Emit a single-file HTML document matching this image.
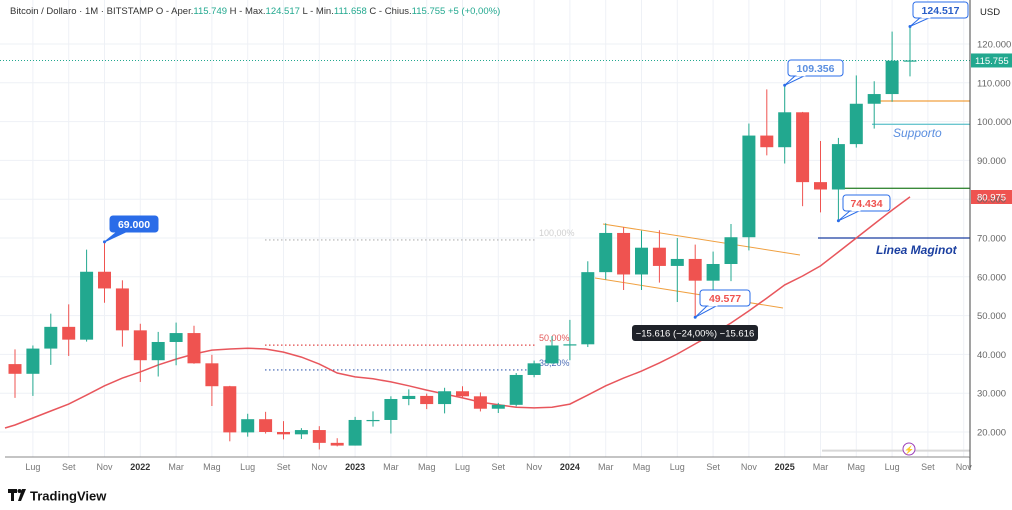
<!DOCTYPE html>
<html><head><meta charset="utf-8"><style>
body{margin:0;background:#fff;width:1012px;height:510px;overflow:hidden;font-family:"Liberation Sans",sans-serif}
svg{display:block}
</style></head><body>
<svg id="c" width="1012" height="510" xmlns="http://www.w3.org/2000/svg" font-family="Liberation Sans, sans-serif"></svg>
<script>
const months=["Jun21","Jul21","Aug21","Sep21","Oct21","Nov21","Dec21","Jan22","Feb22","Mar22","Apr22","May22","Jun22","Jul22","Aug22","Sep22","Oct22","Nov22","Dec22","Jan23","Feb23","Mar23","Apr23","May23","Jun23","Jul23","Aug23","Sep23","Oct23","Nov23","Dec23","Jan24","Feb24","Mar24","Apr24","May24","Jun24","Jul24","Aug24","Sep24","Oct24","Nov24","Dec24","Jan25","Feb25","Mar25","Apr25","May25","Jun25","Jul25","Aug25"];
const opens=[37.5,35.0,41.5,47.1,43.8,61.3,57.0,46.2,38.5,43.2,45.5,37.7,31.8,19.9,23.3,20.0,19.4,20.5,17.2,16.5,23.1,23.1,28.5,29.3,27.2,30.5,29.2,26.0,27.0,34.7,37.7,42.3,42.6,61.2,71.3,60.6,67.5,62.8,64.6,59.0,63.3,70.2,96.4,93.4,102.4,84.4,82.5,94.2,104.6,107.1,115.749];
const highs=[41.3,42.3,50.5,52.9,67.0,69.0,59.1,47.9,45.8,48.2,47.4,39.9,31.9,24.7,25.2,22.8,21.0,21.5,18.4,23.9,25.3,29.2,31.0,29.9,31.4,31.8,30.2,27.5,35.2,38.4,44.7,48.9,64.0,73.8,72.8,71.9,72.0,70.0,68.3,66.5,73.6,99.5,108.3,109.356,102.5,95.0,95.8,111.9,110.4,123.2,124.517];
const lows=[28.8,29.3,37.3,39.6,43.3,53.3,42.0,32.9,34.3,37.2,37.6,26.7,17.6,18.8,19.6,18.1,18.2,15.5,16.3,16.5,21.4,19.6,26.9,25.9,24.8,28.9,25.3,24.9,26.6,34.1,37.6,38.5,41.9,59.3,56.6,56.6,58.5,53.5,49.577,52.6,58.9,66.8,91.3,89.2,78.2,76.6,74.434,93.3,98.2,105.1,111.658];
const closes=[35.0,41.5,47.1,43.8,61.3,57.0,46.2,38.5,43.2,45.5,37.7,31.8,19.9,23.3,20.0,19.4,20.5,17.2,16.5,23.1,23.1,28.5,29.3,27.2,30.5,29.2,26.0,27.0,34.7,37.7,42.3,42.6,61.2,71.3,60.6,67.5,62.8,64.6,59.0,63.3,70.2,96.4,93.4,102.4,84.4,82.5,94.2,104.6,107.1,115.7,115.755];
const maValues=[21.8,23.6,25.4,27.2,29.5,31.9,33.9,35.5,37.3,38.8,40.1,41.1,41.4,41.6,41.4,40.6,39.3,37.5,35.2,34.2,33.7,32.9,31.9,30.8,29.8,28.8,27.7,27.0,26.4,26.2,26.4,27.2,29.5,31.9,33.9,35.7,37.8,40.1,42.7,45.3,48.1,51.2,54.5,57.9,60.2,62.8,66.4,70.0,73.6,77.2,80.6];
const yTicks=[20,30,40,50,60,70,80,90,100,110,120];
const xLabels=["Lug","Set","Nov","2022","Mar","Mag","Lug","Set","Nov","2023","Mar","Mag","Lug","Set","Nov","2024","Mar","Mag","Lug","Set","Nov","2025","Mar","Mag","Lug","Set","Nov"];

const S=document.getElementById('c'),NS="http://www.w3.org/2000/svg";
const X=i=>15+i*17.9;
const Y=v=>432-(v-20)*3.88;
const PR=970;
function el(t,a,p){const e=document.createElementNS(NS,t);for(const k in a)e.setAttribute(k,a[k]);(p||S).appendChild(e);return e;}
function tx(x,y,s,a){const e=el('text',Object.assign({x:x,y:y},a));e.textContent=s;return e;}

// grid
const grid=el('g',{});
yTicks.forEach(v=>el('line',{x1:0,x2:PR,y1:Y(v),y2:Y(v),stroke:'#eef1f6'},grid));
xLabels.forEach((l,k)=>{const x=X(1+2*k);el('line',{x1:x,x2:x,y1:0,y2:457,stroke:'#eef1f6'},grid);});

// header
const h=tx(10,14,"",{"font-size":"9.5",fill:"#333"});
h.innerHTML='Bitcoin / Dollaro · 1M · BITSTAMP  O - Aper.<tspan fill="#22a88f">115.749</tspan>  H - Max.<tspan fill="#22a88f">124.517</tspan>  L - Min.<tspan fill="#22a88f">111.658</tspan>  C - Chius.<tspan fill="#22a88f">115.755</tspan>  <tspan fill="#22a88f">+5 (+0,00%)</tspan>';

// fib lines
[[69.5,'#b0b0b0','100,00%'],[42.4,'#e04848','50,00%'],[36.0,'#3a5fb0','38,20%']].forEach((f,k)=>{
 const g=el('g',{});
 el('line',{x1:265,x2:535,y1:Y(f[0]),y2:Y(f[0]),stroke:f[1],'stroke-dasharray':'1.5 2.5','stroke-width':1.2},g);
 tx(539,Y(f[0])-4,f[2],{'font-size':9,fill:f[1],opacity:k==0?0.6:0.9},g);
});
// current price dotted line
const cl=el('line',{x1:0,x2:PR,y1:Y(115.755),y2:Y(115.755),stroke:'#22a88f','stroke-dasharray':'1 2'});


// channel
const ch=el('g',{stroke:'#f0a040','stroke-width':1});
el('line',{x1:603,y1:224,x2:800,y2:255},ch);el('line',{x1:595,y1:278,x2:783,y2:308},ch);

// horizontal levels
[[105.3,872,'#f0a040','resistance-line'],[99.3,872,'#6cc6cf','supporto-line'],[82.8,843,'#3a8a3a','green-level-line'],[70,818,'#1b3fa0','linea-maginot-line'],[15.2,822,'#d8d8d8','lower-level-line']].forEach(l=>{
 const e=el('line',{x1:l[1],x2:PR,y1:Y(l[0]),y2:Y(l[0]),stroke:l[2],'stroke-width':l[3]=='lower-level-line'?2:1.3});
 
});
const su=tx(893,137,"Supporto",{'font-size':12,'font-style':'italic',fill:'#5b8fe0'});
const lm=tx(876,254,"Linea Maginot",{'font-size':12,'font-style':'italic','font-weight':'bold',fill:'#1b3fa0'});
const bolt=el('g',{});
el('circle',{cx:909,cy:449,r:6,fill:'#fff',stroke:'#9c3fb8'},bolt);tx(909,452.5,"⚡",{'font-size':8,'text-anchor':'middle',fill:'#9c3fb8'},bolt);

// MA
let d='';maValues.forEach((v,i)=>{d+=(i?'L':'M')+X(i).toFixed(1)+','+Y(v).toFixed(1);});
d='M5,'+(Y(maValues[0])+3).toFixed(1)+'L'+d.slice(1);
const ma=el('path',{d:d,fill:'none',stroke:'#e8565c','stroke-width':1.5});


// candles
months.forEach((m,i)=>{
 const o=opens[i],c=closes[i],up=c>=o,col=up?'#22a88f':'#ef5350';
 const g=el('g',{});
 
 
 el('line',{x1:X(i),x2:X(i),y1:Y(highs[i]),y2:Y(lows[i]),stroke:col,'stroke-width':1},g);
 const t=Y(Math.max(o,c)),b=Y(Math.min(o,c));
 el('rect',{x:X(i)-6.5,y:t,width:13,height:Math.max(1.2,b-t),fill:col},g);
});

// callouts
function callout(name,bx,by,w,label,px,py,filled,color){
 const g=el('g',{});
 el('path',{d:`M${px},${py}L${bx+8},${by+15}L${bx+18},${by+15}Z`,fill:filled?'#2a6ce8':'#fff',stroke:'#2a6ce8'},g);
 el('rect',{x:bx,y:by,width:w,height:16,rx:3,fill:filled?'#2a6ce8':'#fff',stroke:'#2a6ce8'},g);
 if(!filled) el('line',{x1:bx+8.5,x2:bx+17.5,y1:by+15.5,y2:by+15.5,stroke:'#fff','stroke-width':1.5},g);
 el('circle',{cx:px,cy:py,r:1.5,fill:'#2a6ce8'},g);
 tx(bx+w/2,by+12,label,{'font-size':10.5,'font-weight':'bold','text-anchor':'middle',fill:filled?'#fff':color},g);
}
callout('callout-69000',110,216,48,'69.000',X(5),Y(69.0),true,'#fff');
callout('callout-109356',788,60,55,'109.356',X(43),Y(109.356),false,'#5b8fe0');
callout('callout-124517',913,2,55,'124.517',X(50),Y(124.517),false,'#2a5fc8');
callout('callout-49577',700,290,50,'49.577',X(38),Y(49.577),false,'#ef5350');
callout('callout-74434',843,195,47,'74.434',X(46),Y(74.434),false,'#ef5350');

// measurement tooltip
const tt=el('g',{});
el('rect',{x:632,y:325,width:126,height:16,rx:3,fill:'#1f2229'},tt);
tx(695,336.5,"−15.616 (−24,00%) −15.616",{'font-size':9.5,fill:'#fff','text-anchor':'middle'},tt);

// price axis
const ax=el('g',{});
el('rect',{x:PR,y:0,width:42,height:457,fill:'#fff'},ax);
el('line',{x1:PR,x2:PR,y1:0,y2:457,stroke:'#444'},ax);
tx(980,15,"USD",{'font-size':9.5,fill:'#222'},ax);
yTicks.forEach(v=>tx(977,Y(v)+3.5,v+'.000',{'font-size':9.5,fill:'#666'},ax));
el('rect',{x:971,y:Y(115.755)-7,width:41,height:14,fill:'#22a88f'},ax);
tx(975,Y(115.755)+3.5,"115.755",{'font-size':9.5,fill:'#fff'},ax);
el('rect',{x:971,y:190,width:41,height:14,fill:'#ef5350'},ax);
tx(977,200.5,"80.975",{'font-size':9.5,fill:'#fff'},ax);

// time axis
const tax=el('g',{});
el('line',{x1:5,x2:PR,y1:457,y2:457,stroke:'#888'},tax);
el('line',{x1:PR,x2:PR,y1:457,y2:470,stroke:'#444'},tax);
xLabels.forEach((l,k)=>{const y=/^\d/.test(l);tx(X(1+2*k),470,l,{'font-size':9,'text-anchor':'middle',fill:y?'#333':'#777','font-weight':y?'bold':'normal'},tax);});

// logo
const lg=el('g',{});
tx(8,501,"𝟏𝟕",{'font-size':0},lg);
el('path',{d:'M8,489h9v4h-3v8h-3v-8h-3z',fill:'#111'},lg);
el('circle',{cx:19.5,cy:491,r:2,fill:'#111'},lg);
el('path',{d:'M22,489h4l-5,12h-3z',fill:'#111'},lg);
tx(30,500.5,"TradingView",{'font-size':13,'font-weight':'bold',fill:'#111'},lg);
</script>
</body></html>
